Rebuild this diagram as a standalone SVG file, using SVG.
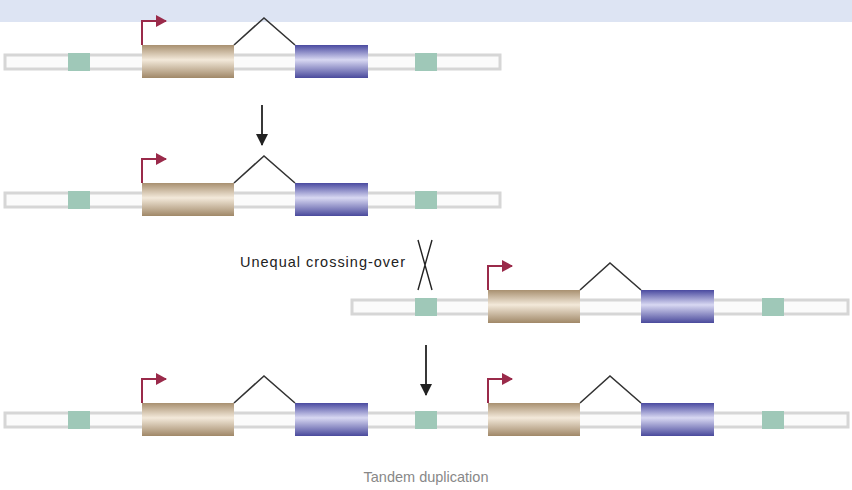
<svg xmlns="http://www.w3.org/2000/svg" width="852" height="490" viewBox="0 0 852 490">
<defs>
<linearGradient id="tan" x1="0" y1="0" x2="0" y2="1"><stop offset="0" stop-color="#a89070"/><stop offset="0.45" stop-color="#f3e9da"/><stop offset="1" stop-color="#a08868"/></linearGradient>
<linearGradient id="blu" x1="0" y1="0" x2="0" y2="1"><stop offset="0" stop-color="#4a4aa0"/><stop offset="0.45" stop-color="#d8d8f2"/><stop offset="1" stop-color="#4a4a9c"/></linearGradient>
<marker id="ra" markerWidth="11" markerHeight="12" refX="10" refY="6" orient="auto" markerUnits="userSpaceOnUse"><path d="M0,0 L11,6 L0,12 z" fill="#9a2a4a"/></marker>
<marker id="da" markerWidth="12" markerHeight="12" refX="11" refY="6" orient="auto" markerUnits="userSpaceOnUse"><path d="M0,0 L12,6 L0,12 z" fill="#222"/></marker>
<g id="gene">
<rect x="0" y="-17" width="92" height="33" fill="url(#tan)"/>
<path d="M0,-17 V-41 H24" fill="none" stroke="#9a2a4a" stroke-width="2" marker-end="url(#ra)"/>
<path d="M92,-17 L122,-44 L153,-17" fill="none" stroke="#333" stroke-width="1.6"/>
<rect x="153" y="-17" width="73" height="33" fill="url(#blu)"/>
</g>
</defs>
<style>.chr{fill:#fbfbfb;stroke:#d6d6d6;stroke-width:3}.g{fill:#9fc8b8}.t{font-family:"Liberation Sans",Arial,sans-serif;font-size:14.5px}</style>
<rect x="0" y="0" width="852" height="22" fill="#dde4f3"/>
<g id="row1"><rect class="chr" x="5" y="55" width="495" height="14"/><rect class="g" x="68" y="53" width="22" height="18"/><rect class="g" x="415" y="53" width="22" height="18"/><use href="#gene" x="142" y="62"/></g>
<g id="row2"><rect class="chr" x="5" y="193" width="495" height="14"/><rect class="g" x="68" y="191" width="22" height="18"/><rect class="g" x="415" y="191" width="22" height="18"/><use href="#gene" x="142" y="200"/></g>
<g id="row3"><rect class="chr" x="352" y="300" width="496" height="14"/><rect class="g" x="415" y="298" width="22" height="18"/><rect class="g" x="762" y="298" width="22" height="18"/><use href="#gene" x="488" y="307"/></g>
<g id="row4"><rect class="chr" x="5" y="413" width="843" height="14"/><rect class="g" x="68" y="411" width="22" height="18"/><rect class="g" x="415" y="411" width="22" height="18"/><rect class="g" x="762" y="411" width="22" height="18"/><use href="#gene" x="142" y="420"/><use href="#gene" x="488" y="420"/></g>
<g id="connectors" stroke="#222" stroke-width="1.8" fill="none">
<path d="M262,105 V145" marker-end="url(#da)"/>
<path d="M426,345 V395" marker-end="url(#da)"/>
<path d="M418,240 L432,290 M432,240 L418,290" stroke-width="1.4"/>
</g>
<text class="t" x="405" y="267" text-anchor="end" fill="#222" textLength="165">Unequal crossing-over</text>
<text class="t" x="426" y="482" text-anchor="middle" fill="#888">Tandem duplication</text>
</svg>
